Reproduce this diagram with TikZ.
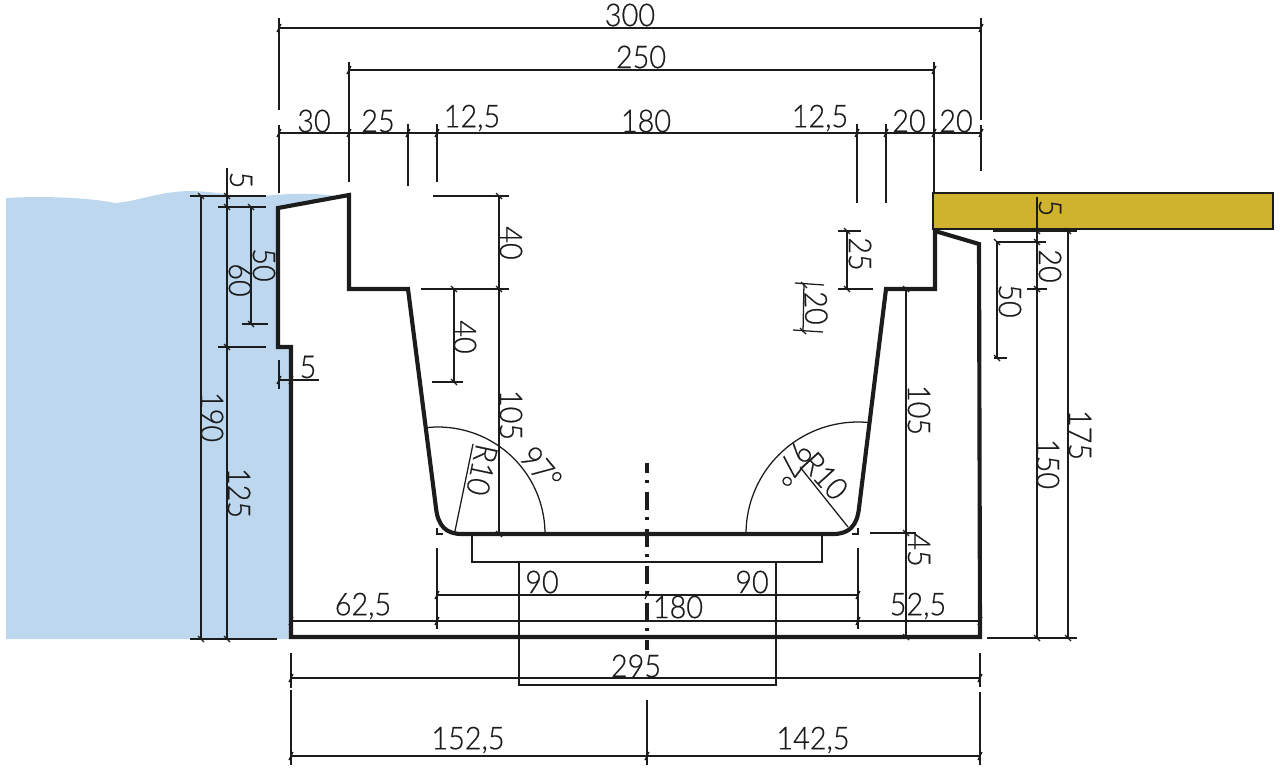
\documentclass[tikz,border=0pt]{standalone}
\usepackage{fontspec}
\setmainfont{Lato}[UprightFont=* Light,FakeStretch=0.92,FakeBold=0.5]
\definecolor{water}{HTML}{BDD7EF}
\definecolor{plank}{HTML}{CFB32F}
\definecolor{ink}{HTML}{1C1C1C}

\begin{document}
\begin{tikzpicture}[
        x=0.75pt,y=-0.75pt,
        ink,
        outline/.style={line width=3.1pt,line join=miter},
        part/.style={line width=1.6pt},
        dimline/.style={line width=0.95pt},
        dimtext/.style={font=\fontsize{23.5}{23.5}\selectfont,inner sep=0pt,text=ink},
        dimdown/.style={dimtext,rotate=-90}
    ]
    \useasboundingbox (0,0) rectangle (1280,772);

    % water and plank
    \fill[water] (6,198) .. controls (40,196) and (85,197) .. (115,203)
        .. controls (140,201) and (160,191) .. (192,191)
        .. controls (225,192) and (235,198) .. (255,197)
        .. controls (280,194) and (310,192) .. (335,196)
        -- (278,208) -- (278,347) -- (291,347) -- (291,639) -- (6,639) -- cycle;
    \draw[fill=plank,line width=1.1pt] (933,193) rectangle (1273,229);

    % section
    \draw[part] (472,534) rectangle (822,562);
    \draw[part] (519,562) rectangle (776,685);
    \draw[outline] (278,208) -- (349,195) -- (349,289) -- (408,289) -- (436,508)
        .. controls (438,526) and (446,534) .. (462,534) -- (833,534)
        .. controls (849,534) and (857,526) .. (859,508)
        -- (886,289) -- (935,289) -- (935,231) -- (979,244) -- (980,637) -- (291,637)
        -- (291,347) -- (278,347) -- cycle;
    \draw[line width=2.3pt,dash pattern=on 13.5pt off 5.25pt on 2pt off 7pt,dash phase=6pt] (647,463) -- (647,650);

    % extension lines, top
    \draw[dimline] (279,18) -- (279,110) (279,125) -- (279,193);
    \draw[dimline] (981,18) -- (981,120) (981,125) -- (981,171);
    \draw[dimline] (349,62) -- (349,182);
    \draw[dimline] (934,62) -- (934,193);
    \foreach \xa/\ya in {408/186,437/182,857/203,886/203}
        \draw[dimline] (\xa,124) -- (\xa,\ya);
    % dimension lines, top
    \draw[dimline] (279,28) -- (981,28);
    \draw[dimline] (349,70) -- (934,70);
    \draw[dimline] (279,133) -- (981,133);

    % left side
    \draw[dimline] (190,196) -- (266,196);
    \draw[dimline] (218,207) -- (266,207);
    \draw[dimline] (218,347) -- (266,347);
    \draw[dimline] (242,324) -- (268,324);
    \draw[dimline] (190,639) -- (277,639);
    \draw[dimline] (201,196) -- (201,639);
    \draw[dimline] (227,168) -- (227,639);
    \draw[dimline] (251,207) -- (251,324);
    \draw[dimline] (279,380) -- (319,380);
    \draw[dimline] (279,360) -- (279,389);

    % inside left
    \draw[dimline] (433,196) -- (509,196);
    \draw[dimline] (421,289) -- (509,289);
    \draw[dimline] (499,196) -- (499,534);
    \draw[dimline] (454,289) -- (454,382);
    \draw[dimline] (432,382) -- (463,382);

    % inside right
    \draw[dimline] (838,231) -- (861,231);
    \draw[dimline] (838,289) -- (873,289);
    \draw[dimline] (847,231) -- (847,289);
    \draw[dimline] (795,283) -- (824,285);
    \draw[dimline] (793,330) -- (823,332);
    \draw[dimline] (804,283) -- (803,332);
    \draw[dimline] (906,289) -- (906,637);
    \draw[dimline] (870,533) -- (916,533);

    % right side
    \draw[dimline] (993,231) -- (1077,231);
    \draw[dimline] (997,242) -- (1046,242);
    \draw[dimline] (997,242) -- (997,358);
    \draw[dimline] (994,358) -- (1007,358);
    \draw[dimline] (1037,197) -- (1037,638);
    \draw[dimline] (1027,289) -- (1047,289);
    \draw[dimline] (1068,231) -- (1068,638);
    \draw[dimline] (987,638) -- (1077,638);

    % bottom
    \draw[dimline] (437,595) -- (858,595);
    \draw[dimline] (291,621) -- (980,621);
    \draw[dimline] (437,548) -- (437,629);
    \draw[dimline] (858,548) -- (858,629);
    \draw[dimline] (437,528) -- (437,534) -- (443,534);
    \draw[dimline] (858,528) -- (858,534) -- (852,534);
    \draw[dimline] (291,653) -- (291,688) (291,690) -- (291,765);
    \draw[dimline] (980,653) -- (980,687) (980,692) -- (980,765);
    \draw[dimline] (647,700) -- (647,765);
    \draw[dimline] (291,678) -- (980,678);
    \draw[dimline] (291,756) -- (980,756);

    % radii and angles
    \draw[dimline] (545,534) arc[start angle=0,end angle=-96,radius=107];
    \draw[dimline] (746,534) arc[start angle=180,end angle=275,radius=112];
    \draw[dimline] (455,531) -- (473,444);
    \draw[dimline] (848,527) -- (800,467);

    % ticks
    \foreach \xa/\ya in {279/28,981/28,349/70,934/70,279/133,349/133,408/133,437/133,857/133,886/133,934/133,981/133,
        279/380,291/380,437/595,647/595,858/595,291/621,437/621,858/621,980/621,291/678,980/678,291/756,647/756,980/756}
        \draw[dimline] (\xa-2,\ya+4) -- (\xa+2,\ya-4);
    \foreach \xa/\ya in {201/196,227/196,227/207,251/207,251/324,227/347,201/639,227/639,499/196,499/289,454/289,454/382,499/534,
        847/231,847/289,804/285,803/331,906/289,906/533,906/637,1037/231,1037/242,1037/289,1037/638,1068/231,1068/638,997/242,997/358}
        \draw[dimline] (\xa-3,\ya-3) -- (\xa+3,\ya+3);

    % horizontal texts
    \node[dimtext] (d300) at (630,15) {300};
    \node[dimtext] (d250) at (641,57) {250};
    \node[dimtext] (d30) at (314,121) {30};
    \node[dimtext] (d25) at (378,121) {25};
    \node[dimtext] (d125a) at (472,118) {12,5};
    \node[dimtext] (d180a) at (646,121) {180};
    \node[dimtext] (d125b) at (820,118) {12,5};
    \node[dimtext] (d20a) at (909,121) {20};
    \node[dimtext] (d20b) at (956,121) {20};
    \node[dimtext] (d5a) at (308,367) {5};
    \node[dimtext] (d625) at (363,606) {62,5};
    \node[dimtext] (d90a) at (542,582) {90};
    \node[dimtext] (d90b) at (752,582) {90};
    \node[dimtext] (d180b) at (678,607) {180};
    \node[dimtext] (d525) at (918,606) {52,5};
    \node[dimtext] (d295) at (636,666) {295};
    \node[dimtext] (d1525) at (468,740) {152,5};
    \node[dimtext] (d1425) at (813,740) {142,5};

    % vertical texts
    \node[dimdown] (d5b) at (241,180) {5};
    \node[dimdown] (d50a) at (264,265) {50};
    \node[dimdown] (d60) at (240,280) {60};
    \node[dimdown] (d190) at (212,417) {190};
    \node[dimdown] (d125c) at (239,493) {125};
    \node[dimdown] (d40a) at (511,243) {40};
    \node[dimdown] (d40b) at (465,337) {40};
    \node[dimdown] (d105a) at (511,415) {105};
    \node[dimdown] (d105b) at (919,410) {105};
    \node[dimdown] (d25b) at (860,254) {25};
    \node[dimdown,rotate=2] (d20c) at (816,308) {20};
    \node[dimdown] (d5c) at (1050,208) {5};
    \node[dimdown] (d20d) at (1050,266) {20};
    \node[dimdown] (d50b) at (1010,301) {50};
    \node[dimdown] (d175) at (1080,435) {175};
    \node[dimdown] (d150) at (1048,464) {150};
    \node[dimdown] (d45) at (919,550) {45};

    % slanted texts
    \node[dimtext,rotate=-102] (r10a) at (482,470) {R10};
    \node[dimtext,rotate=-48] (r10b) at (825,476) {R10};
    \node[dimtext,rotate=-50] (a97a) at (541,468) {97°};
    \node[dimtext,rotate=-127] (a97b) at (792,464) {97°};
\end{tikzpicture}
\end{document}
